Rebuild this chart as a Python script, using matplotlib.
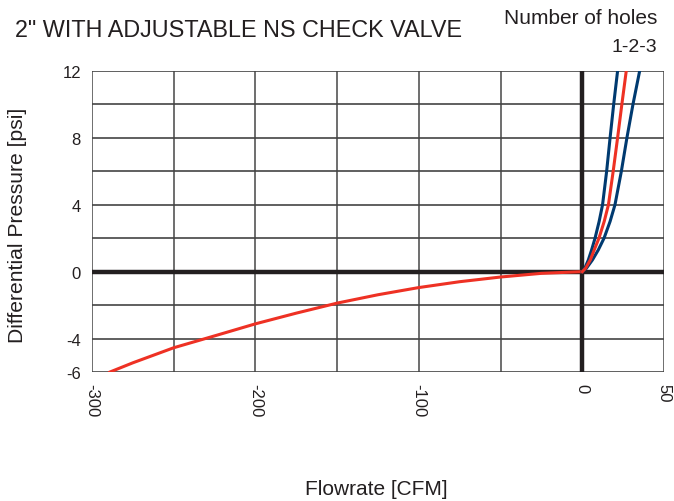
import numpy as np
import matplotlib.pyplot as plt

# Reverse flow (negative side), single curve
neg_flow = [-289, -275, -250, -225, -200, -175, -150, -125, -100, -75, -50, -25, 0]
neg_dp = [-6.0, -5.45, -4.55, -3.84, -3.12, -2.48, -1.88, -1.38, -0.95, -0.6, -0.32, -0.1, 0.0]

# Forward flow, one curve per number of holes
fwd_dp = [0, 0.2, 0.7, 1.3, 2, 3, 4, 6, 8, 10, 12]
flow_1 = [0, 1.5, 3.7, 5.7, 7.8, 10.3, 12.4, 14.9, 17.0, 19.2, 21.6]
flow_2 = [0, 2.0, 4.9, 7.3, 10.2, 13.4, 16.0, 18.9, 21.6, 24.2, 26.9]
flow_3 = [0, 2.5, 6.2, 9.8, 13.3, 17.0, 20.0, 23.9, 27.3, 31.0, 35.1]

x_ticks = [-300, -200, -100, 0, 50]
y_ticks = [-6, -4, 0, 4, 8, 12]

red = '#ee3124'
navy = '#003a70'
ink = '#231f20'

plt.rcParams['font.family'] = ['Liberation Sans', 'DejaVu Sans']

fig = plt.figure(figsize=(6.74, 5.02), dpi=100)
ax = fig.add_axes([92 / 674, 1 - 373 / 502, 572 / 674, 301 / 502])

# Grid
for gx in np.arange(-300, 51, 50):
    ax.axvline(gx, color='#555555', lw=1.2, zorder=1)
for gy in np.arange(-6, 13, 2):
    ax.axhline(gy, color='#444444', lw=1.2, zorder=1)
ax.axhline(0, color=ink, lw=3.2, zorder=2)
ax.axvline(0, color=ink, lw=3.2, zorder=2)

# Curves
ax.plot(neg_flow, neg_dp, color=red, lw=2.2, zorder=3)
for fl, col in [(flow_1, navy), (flow_3, navy), (flow_2, red)]:
    ax.plot(fl, fwd_dp, color=col, lw=2.2, zorder=3)

ax.set_xlim(-300, 50)
ax.set_ylim(-6, 12)
ax.set_xticks(x_ticks)
ax.set_xticklabels([str(v) for v in x_ticks], rotation=270, fontsize=12, color=ink)
ax.set_yticks(y_ticks)
ax.set_yticklabels([str(v) for v in y_ticks], fontsize=12, color=ink)
ax.tick_params(length=0, pad=8)
for s in ax.spines.values():
    s.set_visible(False)

ax.set_ylabel('Differential Pressure [psi]', fontsize=15.2, color=ink)
ax.yaxis.set_label_coords(-0.114, 0.49)
fig.text(376 / 674, 1 - 490 / 502, 'Flowrate [CFM]', ha='center', va='center',
         fontsize=15, color=ink)
fig.text(15 / 674, 1 - 31 / 502, '2" WITH ADJUSTABLE NS CHECK VALVE', ha='left', va='center',
         fontsize=16.8, color=ink)
fig.text(657 / 674, 1 - 19 / 502, 'Number of holes', ha='right', va='center',
         fontsize=15, color=ink)
fig.text(657 / 674, 1 - 48 / 502, '1-2-3', ha='right', va='center',
         fontsize=14, color=ink)

fig.savefig('out.png', dpi=100)
